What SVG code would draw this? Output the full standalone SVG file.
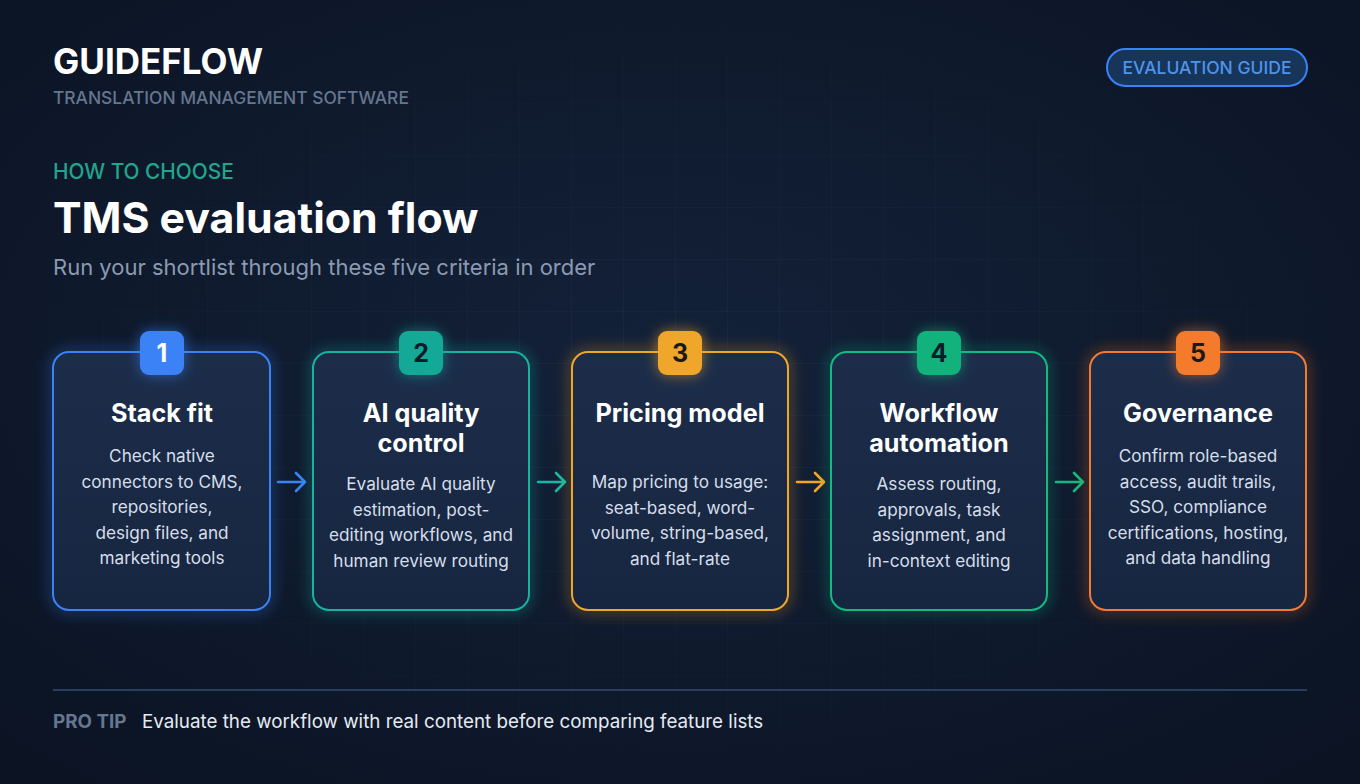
<svg xmlns="http://www.w3.org/2000/svg" width="1360" height="784" viewBox="0 0 1360 784">
<defs>
<style>
.t{font-family:Inter,"Liberation Sans",sans-serif}
.ct{font-family:Inter,"Liberation Sans",sans-serif;font-size:25.2px;font-weight:700;fill:#ffffff;text-anchor:middle}
.cd{font-family:Inter,"Liberation Sans",sans-serif;font-size:17.2px;fill:#d6deea;text-anchor:middle}
.bn{font-family:Inter,"Liberation Sans",sans-serif;font-size:25px;font-weight:700;text-anchor:middle}
.card{stroke-width:2}
.arr{fill:none;stroke-width:2.6;stroke-linecap:round;stroke-linejoin:round}
</style>
<radialGradient id="bg" cx="50%" cy="45%" r="75%">
<stop offset="0" stop-color="#132139"/>
<stop offset="1" stop-color="#0b1322"/>
</radialGradient>
<linearGradient id="cf" x1="0" y1="0" x2="0" y2="1">
<stop offset="0" stop-color="#1c2d4a"/>
<stop offset="1" stop-color="#172640"/>
</linearGradient>
<pattern id="grid" width="52" height="52" patternUnits="userSpaceOnUse" x="0" y="0">
<path d="M52 0V52M0 52H52" fill="none" stroke="#2a3b57" stroke-width="1"/>
</pattern>
<radialGradient id="gm" cx="50%" cy="50%" r="55%">
<stop offset="0" stop-color="#fff" stop-opacity="0.55"/>
<stop offset="1" stop-color="#fff" stop-opacity="0"/>
</radialGradient>
<mask id="gmask"><rect width="1360" height="784" fill="url(#gm)"/></mask>
<filter id="glow" x="-30%" y="-30%" width="160%" height="160%">
<feGaussianBlur stdDeviation="7"/>
</filter>
</defs>
<rect width="1360" height="784" fill="url(#bg)"/>
<rect width="1360" height="784" fill="url(#grid)" mask="url(#gmask)"/>

<g id="header">
<text class="t" x="53" y="74" font-size="35" font-weight="700" fill="#ffffff">GUIDEFLOW</text>
<text class="t" x="53" y="104" font-size="17.4" font-weight="500" fill="#66768f">TRANSLATION MANAGEMENT SOFTWARE</text>
</g>
<g id="badge">
<rect x="1107" y="49" width="200" height="37" rx="18.5" fill="#173459" stroke="#3b82f6" stroke-width="2"/>
<text class="t" x="1207" y="74" font-size="17.5" font-weight="500" fill="#4d94ea" text-anchor="middle">EVALUATION GUIDE</text>
</g>
<g id="title">
<text class="t" x="53" y="179" font-size="20.8" font-weight="500" fill="#23a48c">HOW TO CHOOSE</text>
<text class="t" x="53" y="233" font-size="42.8" font-weight="700" fill="#ffffff">TMS evaluation flow</text>
<text class="t" x="53" y="275" font-size="22" fill="#8c9ab1">Run your shortlist through these five criteria in order</text>
</g>

<g id="connectors">
<g stroke="#3b82f6" class="arr"><path d="M278 482H305M296 473l9 9-9 9"/></g>
<g stroke="#14b8a6" class="arr"><path d="M538 482H565M556 473l9 9-9 9"/></g>
<g stroke="#f5a524" class="arr"><path d="M797 482H824M815 473l9 9-9 9"/></g>
<g stroke="#10b981" class="arr"><path d="M1056 482H1083M1074 473l9 9-9 9"/></g>
</g>

<g id="card1">
<rect x="53" y="352" width="217" height="258" rx="16" fill="none" stroke="#3b82f6" stroke-width="6" opacity="0.45" filter="url(#glow)"/>
<rect class="card" x="53" y="352" width="217" height="258" rx="16" fill="url(#cf)" stroke="#3b82f6"/>
<rect x="140" y="331" width="44" height="44" rx="9" fill="#3b82f6" filter="url(#glow)" opacity="0.6"/>
<rect x="140" y="331" width="44" height="44" rx="9" fill="#3b82f6"/>
<text class="bn" x="162" y="362" fill="#ffffff">1</text>
<text class="ct" x="162" y="422">Stack fit</text>
<text class="cd" x="162" y="462">Check native</text>
<text class="cd" x="162" y="488">connectors to CMS,</text>
<text class="cd" x="162" y="513">repositories,</text>
<text class="cd" x="162" y="539">design files, and</text>
<text class="cd" x="162" y="564">marketing tools</text>
</g>

<g id="card2">
<rect x="313" y="352" width="216" height="258" rx="16" fill="none" stroke="#14b8a6" stroke-width="6" opacity="0.45" filter="url(#glow)"/>
<rect class="card" x="313" y="352" width="216" height="258" rx="16" fill="url(#cf)" stroke="#16b3a0"/>
<rect x="399" y="331" width="44" height="44" rx="9" fill="#14a896" filter="url(#glow)" opacity="0.6"/>
<rect x="399" y="331" width="44" height="44" rx="9" fill="#14a896"/>
<text class="bn" x="421" y="362" fill="#0f1a2b">2</text>
<text class="ct" x="421" y="422">AI quality</text>
<text class="ct" x="421" y="452">control</text>
<text class="cd" x="421" y="490">Evaluate AI quality</text>
<text class="cd" x="421" y="516">estimation, post-</text>
<text class="cd" x="421" y="541">editing workflows, and</text>
<text class="cd" x="421" y="567">human review routing</text>
</g>

<g id="card3">
<rect x="572" y="352" width="216" height="258" rx="16" fill="none" stroke="#f5a524" stroke-width="6" opacity="0.45" filter="url(#glow)"/>
<rect class="card" x="572" y="352" width="216" height="258" rx="16" fill="url(#cf)" stroke="#f0a62a"/>
<rect x="658" y="331" width="44" height="44" rx="9" fill="#f0a62a" filter="url(#glow)" opacity="0.6"/>
<rect x="658" y="331" width="44" height="44" rx="9" fill="#f0a62a"/>
<text class="bn" x="680" y="362" fill="#1a1a1a">3</text>
<text class="ct" x="680" y="422">Pricing model</text>
<text class="cd" x="680" y="488">Map pricing to usage:</text>
<text class="cd" x="680" y="514">seat-based, word-</text>
<text class="cd" x="680" y="539">volume, string-based,</text>
<text class="cd" x="680" y="565">and flat-rate</text>
</g>

<g id="card4">
<rect x="831" y="352" width="216" height="258" rx="16" fill="none" stroke="#10b981" stroke-width="6" opacity="0.45" filter="url(#glow)"/>
<rect class="card" x="831" y="352" width="216" height="258" rx="16" fill="url(#cf)" stroke="#14b983"/>
<rect x="917" y="331" width="44" height="44" rx="9" fill="#12b27c" filter="url(#glow)" opacity="0.6"/>
<rect x="917" y="331" width="44" height="44" rx="9" fill="#12b27c"/>
<text class="bn" x="939" y="362" fill="#0f1a2b">4</text>
<text class="ct" x="939" y="422">Workflow</text>
<text class="ct" x="939" y="452">automation</text>
<text class="cd" x="939" y="490">Assess routing,</text>
<text class="cd" x="939" y="516">approvals, task</text>
<text class="cd" x="939" y="541">assignment, and</text>
<text class="cd" x="939" y="567">in-context editing</text>
</g>

<g id="card5">
<rect x="1090" y="352" width="216" height="258" rx="16" fill="none" stroke="#f97316" stroke-width="6" opacity="0.45" filter="url(#glow)"/>
<rect class="card" x="1090" y="352" width="216" height="258" rx="16" fill="url(#cf)" stroke="#f27a35"/>
<rect x="1176" y="331" width="44" height="44" rx="9" fill="#f47a2c" filter="url(#glow)" opacity="0.6"/>
<rect x="1176" y="331" width="44" height="44" rx="9" fill="#f47a2c"/>
<text class="bn" x="1198" y="362" fill="#1a1a1a">5</text>
<text class="ct" x="1198" y="422">Governance</text>
<text class="cd" x="1198" y="462">Confirm role-based</text>
<text class="cd" x="1198" y="488">access, audit trails,</text>
<text class="cd" x="1198" y="513">SSO, compliance</text>
<text class="cd" x="1198" y="539">certifications, hosting,</text>
<text class="cd" x="1198" y="564">and data handling</text>
</g>

<g id="footer">
<line x1="53" y1="690" x2="1307" y2="690" stroke="#2a3d5c" stroke-width="2"/>
<text class="t" x="53" y="728" font-size="18.8" font-weight="700" fill="#66768f">PRO TIP</text>
<text class="t" x="142" y="728" font-size="18.8" fill="#e6ebf2">Evaluate the workflow with real content before comparing feature lists</text>
</g>
</svg>
